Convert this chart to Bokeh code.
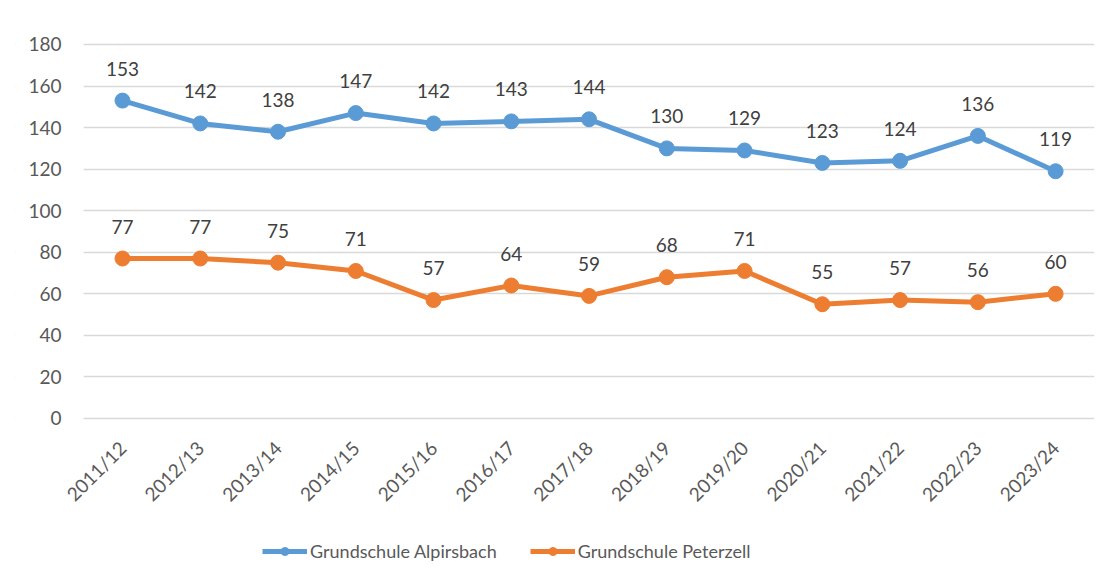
import math
from bokeh.plotting import figure
from bokeh.models import (ColumnDataSource, LabelSet, Legend, LegendItem, FixedTicker,
                          Range1d, BoxAnnotation)
from bokeh.core.properties import value
from bokeh.embed import file_html
from bokeh.resources import INLINE

years = ["2011/12", "2012/13", "2013/14", "2014/15", "2015/16", "2016/17", "2017/18",
         "2018/19", "2019/20", "2020/21", "2021/22", "2022/23", "2023/24"]
alpirsbach = [153, 142, 138, 147, 142, 143, 144, 130, 129, 123, 124, 136, 119]
peterzell = [77, 77, 75, 71, 57, 64, 59, 68, 71, 55, 57, 56, 60]
series_names = ["Grundschule Alpirsbach", "Grundschule Peterzell"]
y_ticks = [0, 20, 40, 60, 80, 100, 120, 140, 160, 180]

FONT = "Lato"
BLUE = "#5B9BD5"
ORANGE = "#ED7D31"

idx = list(range(len(years)))

# the frame covers almost the whole canvas; both axes are pinned to the plot-area edges
p = figure(x_range=Range1d(-1.376, len(years) - 0.5), y_range=Range1d(-74.6, 191.55),
           width=1100, height=573, output_backend="svg", toolbar_location=None,
           min_border_left=15, min_border_right=6, min_border_top=20, min_border_bottom=0)
p.outline_line_color = None

p.xgrid.grid_line_color = None
p.ygrid.grid_line_color = "#d9d9d9"
p.ygrid.grid_line_width = 1.3
p.yaxis.ticker = FixedTicker(ticks=y_ticks)
p.xaxis.ticker = FixedTicker(ticks=idx)
p.xaxis.major_label_overrides = {i: y for i, y in zip(idx, years)}
p.xaxis.fixed_location = 0
p.yaxis.fixed_location = -0.5
p.xaxis.minor_tick_line_color = None
p.yaxis.minor_tick_line_color = None

# white mask so the gridlines start at the plot-area edge
p.add_layout(BoxAnnotation(right=-0.5, fill_color="white", fill_alpha=1.0,
                           line_color=None, level="underlay"))

for ax in (p.xaxis, p.yaxis):
    ax.axis_line_color = None
    ax.major_tick_line_color = None
    ax.major_label_text_font = FONT
    ax.major_label_text_font_size = "19px"
    ax.major_label_text_color = "#595959"
p.yaxis.major_label_standoff = 16
p.xaxis.major_label_standoff = 20
p.xaxis.major_label_orientation = math.pi / 4

src = ColumnDataSource(dict(x=idx, a=alpirsbach, b=peterzell,
                            at=[str(v) for v in alpirsbach], bt=[str(v) for v in peterzell]))

la = p.line("x", "a", source=src, line_color=BLUE, line_width=5, line_join="round")
sa = p.scatter("x", "a", source=src, size=15, fill_color=BLUE, line_color=BLUE)
lb = p.line("x", "b", source=src, line_color=ORANGE, line_width=5, line_join="round")
sb = p.scatter("x", "b", source=src, size=15, fill_color=ORANGE, line_color=ORANGE)

for col, txt in (("a", "at"), ("b", "bt")):
    p.add_layout(LabelSet(x="x", y=col, text=txt, source=src, y_offset=32,
                          text_align="center", text_baseline="middle",
                          text_font=value(FONT), text_font_size="19px", text_color="#404040"))

legend = Legend(items=[LegendItem(label=series_names[0], renderers=[la, sa]),
                       LegendItem(label=series_names[1], renderers=[lb, sb])],
                orientation="horizontal", location=(247, 11),
                label_text_font=FONT, label_text_font_size="18px", label_text_color="#595959",
                glyph_width=45, glyph_height=20, spacing=33, border_line_color=None,
                background_fill_alpha=0, margin=0, padding=0, label_standoff=3)
p.add_layout(legend, "center")

open("out.html", "w").write(file_html(p, INLINE))
